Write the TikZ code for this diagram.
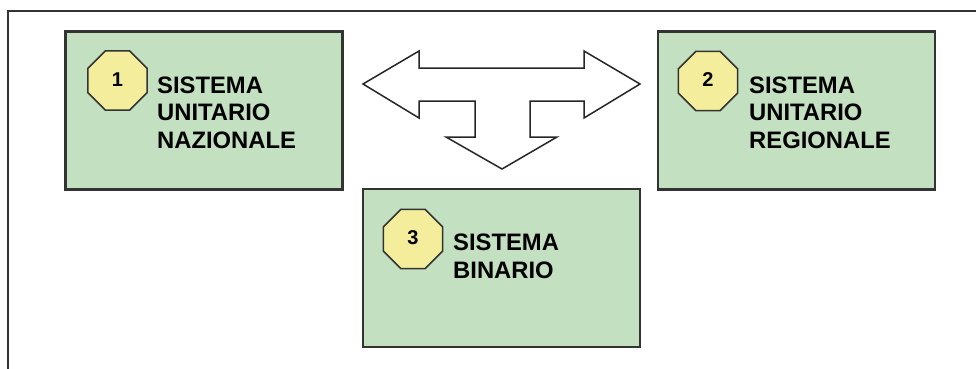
\documentclass[tikz,border=0pt]{standalone}
\usepackage{fontspec}
\setmainfont{Liberation Sans}
\usetikzlibrary{shapes.geometric}
\definecolor{boxgreen}{HTML}{C3E0C1}
\definecolor{octyellow}{HTML}{F4EE9C}
\definecolor{edgegray}{HTML}{333333}
\tikzset{
  panel/.style={draw=edgegray, line width=2.2pt, fill=boxgreen, rectangle,
    minimum width=277pt, minimum height=158pt, inner sep=0pt},
  octo/.style={draw=edgegray, line width=1.6pt, fill=octyellow,
    regular polygon, regular polygon sides=8, minimum size=64pt, inner sep=0pt,
    font=\bfseries\fontsize{20}{20}\selectfont},
  caption/.style={anchor=base west, align=left, inner sep=0pt,
    font=\bfseries\fontsize{23.8}{27.5}\selectfont},
  bigarrow/.style={draw=black!85, line width=1.5pt, fill=white, line join=miter}
}
\begin{document}
\begin{tikzpicture}[x=1pt, y=-1pt]
  \useasboundingbox (0,0) rectangle (976,369);
  % outer frame (top and left edges only)
  \draw[edgegray, line width=1.4pt] (976,11) -- (8,11) -- (8,369);

  % the three green panels
  \node[panel] (box1) at (204,110.5) {};
  \node[panel] (box2) at (796.5,110.5) {};
  \node[panel] (box3) at (501.5,268) {};

  % numbered octagon badges
  \node[octo] (oct1) at (117.5,80.5) {\raisebox{2.5pt}{1}};
  \node[octo] (oct2) at (708,81) {\raisebox{2.5pt}{2}};
  \node[octo] (oct3) at (413,239) {\raisebox{2.5pt}{3}};

  % panel captions (anchored at the baseline of the last line)
  \node[caption] (cap1) at (157,148) {SISTEMA\\UNITARIO\\NAZIONALE};
  \node[caption] (cap2) at (749,148) {SISTEMA\\UNITARIO\\REGIONALE};
  \node[caption] (cap3) at (453,278) {SISTEMA\\BINARIO};

  % three-way block arrow between the panels
  \draw[bigarrow] (363,84) -- (419,51) -- (419,68) -- (584,68) -- (584,51)
    -- (640,84) -- (584,118) -- (584,101) -- (530,101) -- (530,137)
    -- (557,137) -- (502,169) -- (446,137) -- (475,137) -- (475,101)
    -- (419,101) -- (419,118) -- cycle;
\end{tikzpicture}
\end{document}
